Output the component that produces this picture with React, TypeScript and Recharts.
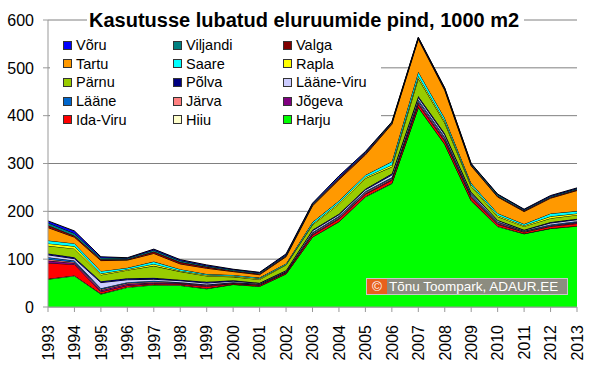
import React from 'react';
import { AreaChart, Area, XAxis, YAxis, CartesianGrid } from 'recharts';

const years = ['1993', '1994', '1995', '1996', '1997', '1998', '1999', '2000', '2001', '2002', '2003',
    '2004', '2005', '2006', '2007', '2008', '2009', '2010', '2011', '2012', '2013'];

// values in 1000 m2, stacked from Harju (bottom) up to Võru (top)
const harju = [58, 65, 27, 41, 46, 45, 38, 47, 43, 69, 146, 178, 230, 258, 417, 340, 222, 168, 153, 164, 169];
const hiiu = [1, 1, 1, 1, 1, 1, 1, 0.5, 0.5, 0.5, 0.5, 1, 1, 1, 1, 1, 1, 1, 0.5, 0.5, 0.5];
const idaViru = [33, 23, 4, 3, 2, 2, 4, 1.5, 2, 2, 4, 5, 5, 6, 6, 6, 6, 4, 3, 4, 5];
const jogeva = [5, 3, 3, 3, 2, 2, 2, 1, 1, 1, 2, 2, 2, 2, 3, 3, 2, 2, 1, 1, 2];
const jarva = [3, 2, 2, 2, 2, 1, 1, 1, 1, 1, 2, 2, 2, 2, 3, 3, 2, 2, 1, 1, 1];
const laane = [4, 3, 2, 2, 2, 1, 1, 1, 1, 1, 2, 2, 2, 2, 4, 3, 3, 2, 1, 2, 2];
const laaneViru = [5, 4, 12, 5, 3, 3, 3, 2, 1, 1.5, 3, 3, 3, 5, 4, 4, 3, 2, 1, 3, 3];
const polva = [3, 3, 3, 3, 3, 2, 3, 2, 1, 1, 2, 2, 2, 3, 3, 3, 2, 1, 1, 2, 2];
const parnu = [16, 18, 13, 17, 25, 17, 12, 7, 7, 11, 10, 20, 22, 14, 37, 22, 11, 7, 7, 8, 8];
const rapla = [5, 5, 3, 2, 4, 2, 2, 2, 2, 1, 2, 3, 3, 4, 5, 4, 3, 3, 2, 4, 3];
const saare = [6, 6, 5, 3, 5, 3, 2, 2, 2, 2, 4, 4, 4, 7, 9, 6, 4, 4, 3, 6, 5];
const tartu = [27, 13, 22, 16, 17, 11, 12, 7, 6, 14, 34, 44, 42, 78, 68, 58, 36, 34, 26, 32, 43];
const valga = [5, 3, 3, 2, 4, 4, 3, 2, 2, 2, 2, 3, 3, 2, 2, 2, 2, 2, 2, 2, 2];
const viljandi = [5, 5, 3, 2, 3, 3, 2, 2, 2, 2, 2, 2, 2, 2, 1, 2, 2, 3, 2, 2, 2];
const voru = [4, 5, 2, 1, 2, 2, 2, 1, 1, 2, 1.5, 3, 2, 1, 1, 1, 1, 1, 1, 1.5, 1.5];

const yTicks = [0, 100, 200, 300, 400, 500, 600];

const series = [
    { key: 'Harju', values: harju, color: '#00FF00' },
    { key: 'Hiiu', values: hiiu, color: '#FFFFCC' },
    { key: 'Ida-Viru', values: idaViru, color: '#FF0000' },
    { key: 'Jõgeva', values: jogeva, color: '#800080' },
    { key: 'Järva', values: jarva, color: '#FF8080' },
    { key: 'Lääne', values: laane, color: '#0066CC' },
    { key: 'Lääne-Viru', values: laaneViru, color: '#CCCCFF' },
    { key: 'Põlva', values: polva, color: '#000080' },
    { key: 'Pärnu', values: parnu, color: '#99CC00' },
    { key: 'Rapla', values: rapla, color: '#FFFF00' },
    { key: 'Saare', values: saare, color: '#00FFFF' },
    { key: 'Tartu', values: tartu, color: '#FF9900' },
    { key: 'Valga', values: valga, color: '#800000' },
    { key: 'Viljandi', values: viljandi, color: '#008080' },
    { key: 'Võru', values: voru, color: '#0000FF' },
];

const data = years.map((year, i) => {
    const row: any = { year };
    series.forEach(s => { row[s.key] = s.values[i]; });
    return row;
});

const FONT = '"Liberation Sans", Arial, sans-serif';

const YearTick = (props: any) => {
    const { x, y, payload } = props;
    return (
        <text
            x={x}
            y={y + 11}
            transform={`rotate(-90, ${x}, ${y + 11})`}
            textAnchor="end"
            dy="0.36em"
            fontSize={16}
            fill="#000"
            fontFamily={FONT}
        >
            {payload.value}
        </text>
    );
};

const legendItems = [...series].reverse();

const App = () => {
    return (
        <div style={{ position: 'absolute', left: 0, top: 0, width: 600, height: 366, fontFamily: FONT, background: '#fff' }}>
            <AreaChart width={600} height={366} data={data} margin={{ top: 20, right: 23, bottom: 0, left: 0 }}>
                <CartesianGrid vertical={false} stroke="#808080" />
                <XAxis
                    dataKey="year"
                    interval={0}
                    height={59}
                    tick={<YearTick />}
                    tickSize={5}
                    tickLine={{ stroke: '#999' }}
                    axisLine={{ stroke: '#999' }}
                />
                <YAxis
                    width={48}
                    domain={[0, 600]}
                    ticks={yTicks}
                    interval={0}
                    tickSize={5}
                    tickMargin={9}
                    tick={{ fontSize: 16, fill: '#000', fontFamily: FONT }}
                    tickLine={{ stroke: '#999' }}
                    axisLine={{ stroke: '#999' }}
                />
                {series.map(s => (
                    <Area
                        key={s.key}
                        dataKey={s.key}
                        stackId="1"
                        type="linear"
                        fill={s.color}
                        fillOpacity={1}
                        stroke="#000"
                        strokeWidth={1}
                        isAnimationActive={false}
                    />
                ))}
            </AreaChart>

            {/* title */}
            <div style={{
                position: 'absolute', left: 87, top: 8, width: 435, height: 24, background: '#fff',
                fontWeight: 'bold', fontSize: 20, lineHeight: '24px', whiteSpace: 'nowrap', paddingLeft: 2,
            }}>
                Kasutusse lubatud eluruumide pind, 1000 m2
            </div>

            {/* legend */}
            <div style={{
                position: 'absolute', left: 50, top: 36, width: 331, height: 92, background: '#fff',
                display: 'grid', gridTemplateColumns: '110px 110px 109px', gridAutoRows: '18.6px',
                paddingLeft: 13, boxSizing: 'border-box', fontSize: 14.5,
            }}>
                {legendItems.map(s => (
                    <div key={s.key} style={{ display: 'flex', alignItems: 'center', whiteSpace: 'nowrap' }}>
                        <span style={{
                            display: 'inline-block', width: 7, height: 7, background: s.color,
                            border: '1px solid #333', marginRight: 4,
                        }} />
                        <span>{s.key}</span>
                    </div>
                ))}
            </div>

            {/* watermark */}
            <div style={{
                position: 'absolute', left: 366, top: 278, width: 202, height: 17, boxSizing: 'border-box',
                border: '1px solid #c8c8c8', background: '#8c8c80', color: '#fff', display: 'flex',
                alignItems: 'center', fontSize: 13.5, whiteSpace: 'nowrap',
            }}>
                <span style={{ background: '#E8601C', width: 20, height: '100%', textAlign: 'center', lineHeight: '15px', marginRight: 2 }}>©</span>
                <span>Tõnu Toompark, ADAUR.EE</span>
            </div>
        </div>
    );
};

export default App;
